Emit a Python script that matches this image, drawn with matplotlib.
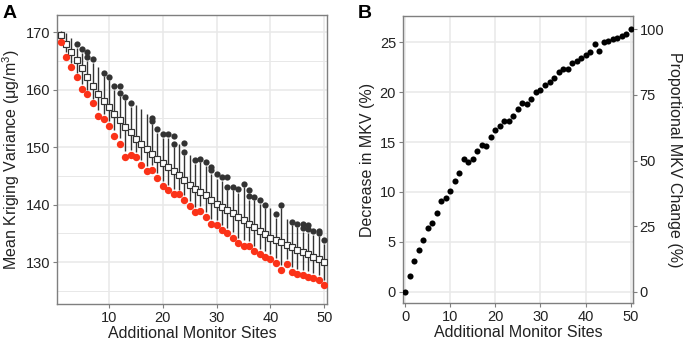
import matplotlib
matplotlib.use("Agg")
import matplotlib.pyplot as plt
import numpy as np

plt.rcParams['font.family'] = ['Liberation Sans', 'DejaVu Sans']
plt.rcParams['mathtext.fontset'] = 'custom'
plt.rcParams['mathtext.rm'] = 'Liberation Sans'
plt.rcParams['mathtext.it'] = 'Liberation Sans:italic'

# Panel A: kriging variance by number of added monitor sites
sites = list(range(1, 51))
median_mkv = [169.5, 167.9, 166.6, 165.1, 163.7, 162.2, 160.6, 159.3, 158.0, 156.9,
              155.8, 154.7, 153.5, 152.6, 151.5, 150.5, 149.7, 148.8, 148.0, 147.3,
              146.6, 145.8, 145.1, 144.3, 143.5, 142.8, 142.2, 141.6, 140.9, 140.2,
              139.6, 139.1, 138.5, 137.9, 137.3, 136.7, 136.1, 135.5, 134.9, 134.3,
              133.9, 133.5, 133.0, 132.6, 132.2, 131.8, 131.4, 130.9, 130.5, 130.1]
whisker_hi = [170.2, 169.9, 168.9, 167.3, 166.4, 165.0, 164.7, 164.0, 162.3, 161.6,
              160.0, 158.8, 158.2, 157.0, 157.4, 156.6, 155.8, 154.0, 152.5, 151.6,
              151.6, 150.0, 150.5, 148.6, 148.6, 147.1, 147.4, 146.8, 145.4, 144.5,
              144.1, 142.5, 142.5, 142.0, 143.1, 140.9, 140.8, 140.2, 139.4, 139.5,
              137.7, 139.4, 137.5, 136.5, 136.1, 135.3, 135.1, 134.8, 134.5, 133.1]
whisker_lo = [168.9, 166.5, 164.6, 162.9, 161.0, 160.0, 158.4, 156.4, 155.7, 154.5,
              153.0, 151.6, 149.4, 149.5, 149.2, 147.8, 146.8, 146.9, 145.5, 144.2,
              143.5, 142.7, 142.6, 141.7, 140.6, 139.6, 139.7, 138.8, 137.6, 137.3,
              136.5, 136.0, 135.2, 134.3, 133.8, 133.7, 132.8, 132.3, 131.9, 131.4,
              130.8, 129.6, 130.5, 129.2, 128.9, 128.7, 128.4, 128.1, 127.8, 127.0]
outliers = [[], [], [], [167.9], [167.0], [166.5, 165.6], [165.3], [], [162.9], [162.2],
            [160.6], [160.6, 159.4], [158.7], [157.6], [], [], [], [155.1, 154.6], [153.1], [152.2],
            [152.2], [151.9, 150.6], [], [150.7, 149.2], [], [147.8], [148.0], [147.4], [146.6, 146.0], [145.3],
            [144.9], [144.8, 143.0], [143.0], [142.7], [143.6], [142.5, 141.5], [141.4], [140.8], [140.0], [],
            [138.3], [140.0], [], [137.0], [136.7], [136.6, 135.9], [136.5, 135.7], [135.4], [135.4, 135.0], [133.8]]
best_mkv = [168.3, 165.7, 163.9, 162.2, 160.1, 159.3, 157.6, 155.4, 154.9, 153.7,
            152.0, 150.6, 148.3, 148.7, 148.3, 146.9, 145.9, 146.1, 144.6, 143.3,
            142.6, 141.8, 141.8, 140.8, 139.7, 138.7, 138.9, 137.9, 136.7, 136.4,
            135.6, 135.1, 134.3, 133.4, 132.9, 132.9, 131.9, 131.4, 131.0, 130.5,
            129.9, 128.6, 129.7, 128.3, 128.0, 127.8, 127.5, 127.2, 126.9, 126.0]

# Panel B: decrease in MKV for the best configuration
sites_b = list(range(0, 51))
decrease = [0, 1.6, 3.08, 4.18, 5.17, 6.36, 6.85, 7.85, 9.1, 9.42,
            10.14, 11.09, 11.92, 13.27, 13.03, 13.27, 14.1, 14.67, 14.57, 15.47,
            16.2, 16.63, 17.07, 17.07, 17.64, 18.3, 18.88, 18.78, 19.34, 20.04,
            20.21, 20.71, 20.98, 21.44, 21.98, 22.28, 22.31, 22.88, 23.15, 23.42,
            23.69, 24.05, 24.79, 24.15, 24.99, 25.15, 25.29, 25.45, 25.62, 25.79, 26.29]

grid_col = '#e8e8e8'
frame_col = '#7f7f7f'
text_col = '#222222'

fig = plt.figure(figsize=(6.85, 3.43), dpi=100)
axA = fig.add_axes([0.0839, 0.1137, 0.3934, 0.8426])
axB = fig.add_axes([0.5883, 0.1166, 0.3353, 0.8367])

def style_axes(ax):
    for s in ax.spines.values():
        s.set_color(frame_col)
        s.set_linewidth(1.0)
    ax.tick_params(colors=frame_col, labelcolor=text_col, labelsize=10.5,
                   length=3, width=0.8, pad=2)
    ax.set_axisbelow(True)
    ax.grid(True, which='major', color=grid_col, linewidth=1.1)

# ---- Panel A ----
style_axes(axA)
axA.set_yticks([125, 135, 145, 155, 165], minor=True)
axA.grid(True, which='minor', axis='y', color=grid_col, linewidth=0.7)
axA.tick_params(which='minor', length=0)
axA.vlines(sites, whisker_lo, whisker_hi, color='#333333', linewidth=1.0, zorder=2)
axA.plot(sites, median_mkv, 's', mfc='white', mec='#333333', ms=4.0, mew=0.85, zorder=3)
out_x = [s for s, vals in zip(sites, outliers) for v in vals]
out_y = [v for vals in outliers for v in vals]
axA.plot(out_x, out_y, 'o', color='#333333', ms=4.5, mew=0, zorder=4)
axA.plot(sites, best_mkv, 'o', color='#fb3218', ms=5.3, mew=0, zorder=5)
axA.set_xlim(0.43, 50.5)
axA.set_ylim(122.75, 172.96)
axA.set_xticks([10, 20, 30, 40, 50])
axA.set_yticks([130, 140, 150, 160, 170])
axA.set_xlabel('Additional Monitor Sites', fontsize=11.5, color=text_col, labelpad=1)
axA.set_ylabel('Mean Kriging Variance (μg/m$^3$)', fontsize=11.5, color=text_col, labelpad=3)

# ---- Panel B ----
style_axes(axB)
axB.plot(sites_b, decrease, 'o', color='black', ms=4.4, mew=0, zorder=3)
axB.set_xlim(-0.51, 50.45)
axB.set_ylim(-1.13, 27.63)
axB.set_xticks([0, 10, 20, 30, 40, 50])
axB.set_yticks([0, 5, 10, 15, 20, 25])
axB.set_xlabel('Additional Monitor Sites', fontsize=11.5, color=text_col, labelpad=1)
axB.set_ylabel('Decrease in MKV (%)', fontsize=11.5, color=text_col, labelpad=3)

# right axis: proportion of the total decrease
top = max(decrease)
sec = axB.secondary_yaxis('right', functions=(lambda v: v * 100 / top, lambda p: p * top / 100))
sec.set_yticks([0, 25, 50, 75, 100])
sec.spines['right'].set_color(frame_col)
sec.tick_params(colors=frame_col, labelcolor=text_col, labelsize=10.5, length=3, width=0.8, pad=2)
sec.set_ylabel('Proportional MKV Change (%)', fontsize=11.5, color=text_col,
               rotation=270, labelpad=13)

# panel letters
fig.text(0.004, 0.985, 'A', fontsize=14, fontweight='bold', va='top', ha='left')
fig.text(0.522, 0.985, 'B', fontsize=14, fontweight='bold', va='top', ha='left')

fig.savefig('out.png', dpi=100)
